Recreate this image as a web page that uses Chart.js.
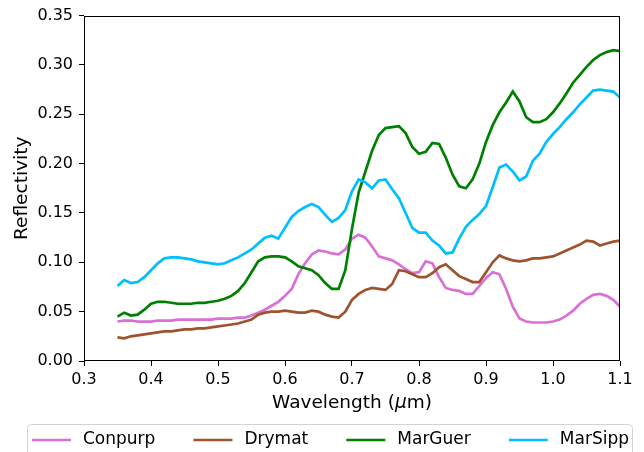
<!DOCTYPE html>
<html>
<head>
<meta charset="utf-8">
<script src="https://cdn.jsdelivr.net/npm/chart.js@4/dist/chart.umd.min.js"></script>
<style>
  html, body { margin: 0; padding: 0; background: #ffffff; }
  canvas { display: block; }
</style>
</head>
<body>
<canvas id="chart" width="644" height="452"></canvas>
<script>
// Wavelength samples (µm)
const wavelengths = [
  0.35, 0.36, 0.37, 0.38, 0.39, 0.40, 0.41, 0.42, 0.43, 0.44,
  0.45, 0.46, 0.47, 0.48, 0.49, 0.50, 0.51, 0.52, 0.53, 0.54,
  0.55, 0.56, 0.57, 0.58, 0.59, 0.60, 0.61, 0.62, 0.63, 0.64,
  0.65, 0.66, 0.67, 0.68, 0.69, 0.70, 0.71, 0.72, 0.73, 0.74,
  0.75, 0.76, 0.77, 0.78, 0.79, 0.80, 0.81, 0.82, 0.83, 0.84,
  0.85, 0.86, 0.87, 0.88, 0.89, 0.90, 0.91, 0.92, 0.93, 0.94,
  0.95, 0.96, 0.97, 0.98, 0.99, 1.00, 1.01, 1.02, 1.03, 1.04,
  1.05, 1.06, 1.07, 1.08, 1.09, 1.10
];

// Reflectivity spectra
const conpurp = [
  0.040, 0.041, 0.041, 0.040, 0.040, 0.040, 0.041, 0.041, 0.041, 0.042,
  0.042, 0.042, 0.042, 0.042, 0.042, 0.043, 0.043, 0.043, 0.044, 0.044,
  0.046, 0.049, 0.052, 0.056, 0.060, 0.066, 0.073, 0.088, 0.099, 0.108,
  0.112, 0.111, 0.109, 0.108, 0.113, 0.124, 0.128, 0.125, 0.116, 0.106,
  0.104, 0.102, 0.098, 0.093, 0.089, 0.090, 0.101, 0.099, 0.085, 0.074,
  0.072, 0.071, 0.068, 0.068, 0.076, 0.084, 0.090, 0.088, 0.073, 0.055,
  0.043, 0.040, 0.039, 0.039, 0.039, 0.040, 0.042, 0.046, 0.051, 0.058,
  0.063, 0.067, 0.068, 0.066, 0.062, 0.055
];
const drymat = [
  0.024, 0.023, 0.025, 0.026, 0.027, 0.028, 0.029, 0.030, 0.030, 0.031,
  0.032, 0.032, 0.033, 0.033, 0.034, 0.035, 0.036, 0.037, 0.038, 0.040,
  0.042, 0.047, 0.049, 0.050, 0.050, 0.051, 0.050, 0.049, 0.049, 0.051,
  0.050, 0.047, 0.045, 0.044, 0.050, 0.062, 0.068, 0.072, 0.074, 0.073,
  0.072, 0.078, 0.092, 0.091, 0.088, 0.085, 0.085, 0.089, 0.095, 0.098,
  0.092, 0.086, 0.083, 0.080, 0.080, 0.090, 0.100, 0.107, 0.104, 0.102,
  0.101, 0.102, 0.104, 0.104, 0.105, 0.106, 0.109, 0.112, 0.115, 0.118,
  0.122, 0.121, 0.117, 0.119, 0.121, 0.122
];
const marGuer = [
  0.045, 0.049, 0.046, 0.047, 0.052, 0.058, 0.060, 0.060, 0.059, 0.058,
  0.058, 0.058, 0.059, 0.059, 0.060, 0.061, 0.063, 0.066, 0.071, 0.079,
  0.090, 0.101, 0.105, 0.106, 0.106, 0.105, 0.101, 0.096, 0.094, 0.092,
  0.087, 0.079, 0.073, 0.073, 0.092, 0.134, 0.171, 0.192, 0.213, 0.229,
  0.236, 0.237, 0.238, 0.231, 0.217, 0.210, 0.212, 0.221, 0.220, 0.206,
  0.189, 0.177, 0.175, 0.184, 0.200, 0.222, 0.239, 0.252, 0.262, 0.273,
  0.263, 0.247, 0.242, 0.242, 0.245, 0.252, 0.261, 0.271, 0.282, 0.290,
  0.298, 0.305, 0.310, 0.313, 0.315, 0.314
];
const marSipp = [
  0.076, 0.082, 0.079, 0.080, 0.085, 0.092, 0.099, 0.104, 0.105, 0.105,
  0.104, 0.103, 0.101, 0.100, 0.099, 0.098, 0.099, 0.102, 0.105, 0.109,
  0.113, 0.119, 0.125, 0.127, 0.124, 0.135, 0.146, 0.152, 0.156, 0.159,
  0.156, 0.148, 0.141, 0.145, 0.153, 0.172, 0.184, 0.181, 0.175, 0.183,
  0.184, 0.174, 0.165, 0.150, 0.135, 0.130, 0.130, 0.122, 0.117, 0.109,
  0.110, 0.124, 0.136, 0.143, 0.149, 0.157, 0.176, 0.196, 0.199, 0.192,
  0.183, 0.187, 0.203, 0.210, 0.222, 0.230, 0.237, 0.245, 0.252, 0.260,
  0.267, 0.274, 0.275, 0.274, 0.273, 0.267
];

const seriesNames = ['Conpurp', 'Drymat', 'MarGuer', 'MarSipp'];
const seriesValues = [conpurp, drymat, marGuer, marSipp];
const seriesColors = ['#DA70D6', '#A0522D', '#008000', '#00BFFF'];

const xTicks = [0.3, 0.4, 0.5, 0.6, 0.7, 0.8, 0.9, 1.0, 1.1];
const yTicks = [0.00, 0.05, 0.10, 0.15, 0.20, 0.25, 0.30, 0.35];

const FONT = '"DejaVu Sans", "Liberation Sans", sans-serif';

// Later series are drawn on top of earlier ones
const datasets = seriesNames.map((name, i) => ({
  label: name,
  data: wavelengths.map((w, k) => ({ x: w, y: seriesValues[i][k] })),
  borderColor: seriesColors[i],
  backgroundColor: seriesColors[i],
  borderWidth: 2.7,
  pointRadius: 0,
  tension: 0,
  fill: false,
  order: seriesNames.length - i
}));

// Full box around the plot, axis titles and the framed legend below
const decorations = {
  id: 'decorations',
  afterDraw(chart) {
    const { ctx, chartArea: a } = chart;
    ctx.save();

    ctx.strokeStyle = '#000000';
    ctx.lineWidth = 1;
    ctx.strokeRect(Math.round(a.left) + 0.5, Math.round(a.top) + 0.5,
                   Math.round(a.right - a.left) - 1, Math.round(a.bottom - a.top) - 1);

    // x-axis title with an italic mu
    const titleSize = 18.5;
    const parts = [
      { t: 'Wavelength (', f: `${titleSize}px ${FONT}` },
      { t: 'μ', f: `italic ${titleSize}px ${FONT}` },
      { t: 'm)', f: `${titleSize}px ${FONT}` }
    ];
    let total = 0;
    parts.forEach(p => { ctx.font = p.f; p.w = ctx.measureText(p.t).width; total += p.w; });
    let x = (a.left + a.right) / 2 - total / 2;
    ctx.fillStyle = '#000000';
    ctx.textBaseline = 'alphabetic';
    ctx.textAlign = 'left';
    parts.forEach(p => { ctx.font = p.f; ctx.fillText(p.t, x, 408); x += p.w; });

    // y-axis title
    ctx.save();
    ctx.translate(27, (a.top + a.bottom) / 2);
    ctx.rotate(-Math.PI / 2);
    ctx.font = `${titleSize}px ${FONT}`;
    ctx.textAlign = 'center';
    ctx.fillText('Reflectivity', 0, 0);
    ctx.restore();

    // legend
    const boxL = 27.5, boxR = 632.5, boxT = 424.5, boxB = 470, r = 4;
    ctx.beginPath();
    ctx.moveTo(boxL + r, boxT);
    ctx.lineTo(boxR - r, boxT);
    ctx.quadraticCurveTo(boxR, boxT, boxR, boxT + r);
    ctx.lineTo(boxR, boxB);
    ctx.lineTo(boxL, boxB);
    ctx.lineTo(boxL, boxT + r);
    ctx.quadraticCurveTo(boxL, boxT, boxL + r, boxT);
    ctx.closePath();
    ctx.fillStyle = 'rgba(255,255,255,0.8)';
    ctx.fill();
    ctx.strokeStyle = '#d3d3d3';
    ctx.stroke();

    ctx.font = `17px ${FONT}`;
    const handle = 39, pad = 12, startX = 32, endX = 629, rowY = 440;
    const widths = chart.data.datasets.map(d => ctx.measureText(d.label).width);
    const used = widths.reduce((s, w) => s + w, 0) + widths.length * (handle + pad);
    const gap = (endX - startX - used) / (widths.length - 1);
    let cx = startX;
    chart.data.datasets.forEach((d, i) => {
      ctx.strokeStyle = d.borderColor;
      ctx.lineWidth = 2.7;
      ctx.beginPath();
      ctx.moveTo(cx, rowY);
      ctx.lineTo(cx + handle, rowY);
      ctx.stroke();
      ctx.fillStyle = '#000000';
      ctx.textBaseline = 'middle';
      ctx.textAlign = 'left';
      ctx.fillText(d.label, cx + handle + pad, rowY);
      cx += handle + pad + widths[i] + gap;
    });

    ctx.restore();
  }
};

new Chart(document.getElementById('chart'), {
  type: 'line',
  data: { datasets },
  options: {
    responsive: false,
    animation: false,
    devicePixelRatio: 1,
    layout: { padding: { left: 0, right: 24, top: 13, bottom: 34 } },
    plugins: { legend: { display: false }, tooltip: { enabled: false } },
    scales: {
      x: {
        type: 'linear',
        min: 0.3,
        max: 1.1,
        afterFit: s => { s.height = 57; },
        afterBuildTicks: s => { s.ticks = xTicks.map(v => ({ value: v })); },
        ticks: {
          color: '#000000',
          font: { family: FONT, size: 16 },
          padding: 4,
          maxRotation: 0,
          callback: v => Number(v).toFixed(1)
        },
        grid: { display: true, drawOnChartArea: false, drawTicks: true, tickLength: 5, color: '#000000' },
        border: { display: false },
        title: { display: false }
      },
      y: {
        type: 'linear',
        min: 0,
        max: 0.35,
        afterFit: s => { s.width = 84; },
        afterBuildTicks: s => { s.ticks = yTicks.map(v => ({ value: v })); },
        ticks: {
          color: '#000000',
          font: { family: FONT, size: 16 },
          padding: 6,
          callback: v => Number(v).toFixed(2)
        },
        grid: { display: true, drawOnChartArea: false, drawTicks: true, tickLength: 5, color: '#000000' },
        border: { display: false },
        title: { display: false }
      }
    }
  },
  plugins: [decorations]
});
</script>
</body>
</html>
